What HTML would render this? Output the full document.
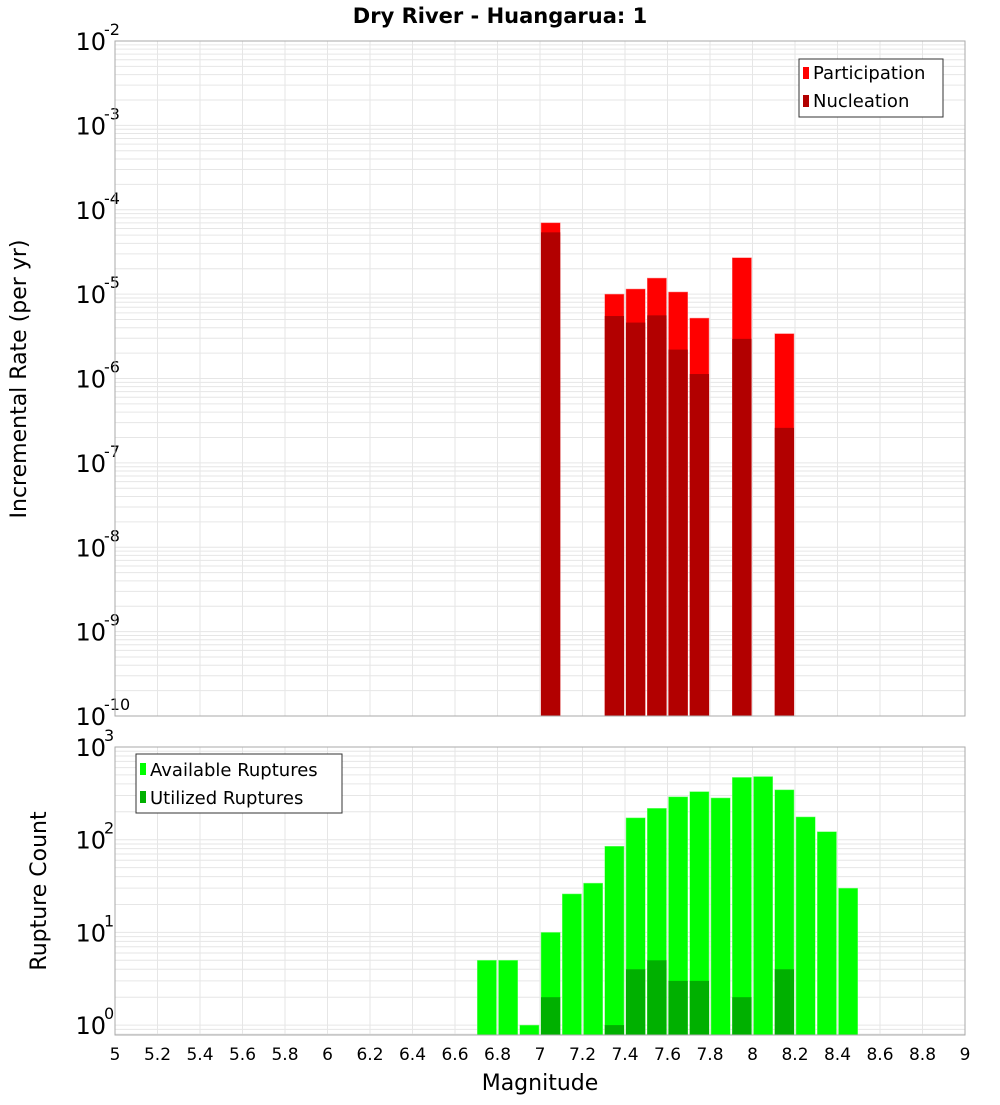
<!DOCTYPE html>
<html><head><meta charset="utf-8"><style>
body{margin:0;background:#fff;font-family:"Liberation Sans","DejaVu Sans",sans-serif;}
svg text{font-family:"DejaVu Sans","Liberation Sans",sans-serif;}
</style></head><body>
<svg id="chart" width="1000" height="1100" viewBox="0 0 1000 1100" xmlns="http://www.w3.org/2000/svg">
<rect width="1000" height="1100" fill="#fff"/>
<text x="500" y="23" text-anchor="middle" font-size="21" font-weight="bold">Dry River - Huangarua: 1</text>
<g id="topPanel"></g><g id="botPanel"></g>
<text transform="translate(26,379) rotate(-90)" text-anchor="middle" font-size="22">Incremental Rate (per yr)</text>
<text transform="translate(46,891) rotate(-90)" text-anchor="middle" font-size="22">Rupture Count</text>
<text x="540" y="1090" text-anchor="middle" font-size="22">Magnitude</text>
<g>
<rect x="799" y="59" width="144" height="58" fill="#fff" stroke="#333"/>
<rect x="803" y="67" width="6" height="12" fill="#ff0000"/>
<text x="813" y="79" font-size="18">Participation</text>
<rect x="803" y="95" width="6" height="12" fill="#b20000"/>
<text x="813" y="107" font-size="18">Nucleation</text>
</g>
<g>
<rect x="136" y="754" width="206" height="59" fill="#fff" stroke="#333"/>
<rect x="140" y="763" width="6" height="12" fill="#00ff00"/>
<text x="150" y="776" font-size="18">Available Ruptures</text>
<rect x="140" y="791" width="6" height="12" fill="#00b000"/>
<text x="150" y="804" font-size="18">Utilized Ruptures</text>
</g>
</svg>
<script>
const topMags = [7.0, 7.3, 7.4, 7.5, 7.6, 7.7, 7.9, 8.1];
const participation = [7.0e-5, 1.0e-5, 1.15e-5, 1.55e-5, 1.06e-5, 5.2e-6, 2.7e-5, 3.4e-6];
const nucleation = [5.4e-5, 5.5e-6, 4.6e-6, 5.6e-6, 2.2e-6, 1.13e-6, 2.95e-6, 2.6e-7];
const botMags = [6.7, 6.8, 6.9, 7.0, 7.1, 7.2, 7.3, 7.4, 7.5, 7.6, 7.7, 7.8, 7.9, 8.0, 8.1, 8.2, 8.3, 8.4];
const available = [5, 5, 1, 10, 26, 34, 85, 172, 218, 290, 330, 282, 470, 480, 345, 176, 122, 30];
const utilized = [0, 0, 0, 2, 0, 0, 1, 4, 5, 3, 3, 0, 2, 0, 4, 0, 0, 0];
const xTicks = ["5","5.2","5.4","5.6","5.8","6","6.2","6.4","6.6","6.8","7","7.2","7.4","7.6","7.8","8","8.2","8.4","8.6","8.8","9"];
const topExps = [-10,-9,-8,-7,-6,-5,-4,-3,-2];
const botExps = [0,1,2,3];

{
const NS = "http://www.w3.org/2000/svg";
const L = 115, R = 965;
const xs = m => L + (m - 5) / 4 * (R - L);
const topY = v => 41 + (-2 - Math.log10(v)) * 84.375;
const botY = v => 747 + (3 - Math.log10(v)) * 92.7;
function mk(parent, tag, attrs) { const e = document.createElementNS(NS, tag); for (const k in attrs) e.setAttribute(k, attrs[k]); parent.appendChild(e); return e; }

function panel(g, y0, y1, yf, exps, name) {
  for (let d = exps[0] - 1; d <= exps[exps.length - 1]; d++) {
    for (let k = 1; k < 10; k++) {
      const v = k * Math.pow(10, d); const yy = yf(v);
      if (yy < y0 || yy > y1) continue;
      const ln = mk(g, "line", {x1: L, x2: R, y1: yy, y2: yy, stroke: "#e6e6e6", "stroke-width": 1});
      
      
    }
  }
  xTicks.forEach(t => {
    const xx = xs(parseFloat(t));
    const ln = mk(g, "line", {x1: xx, x2: xx, y1: y0, y2: y1, stroke: "#e6e6e6", "stroke-width": 1});
    
    
  });
  exps.forEach(e => {
    const yy = yf(Math.pow(10, e));
    const t = mk(g, "text", {x: 106, y: yy + 9, "text-anchor": "end", "font-size": 24});
    t.textContent = "10";
    
    
    const s = mk(g, "text", {x: 104, y: yy - 6, "text-anchor": "start", "font-size": 16});
    s.textContent = String(e);
    
    
  });
}

const topG = document.getElementById("topPanel");
panel(topG, 41, 716, topY, topExps, "top");
topMags.forEach((m, i) => {
  const b = mk(topG, "rect", {x: xs(m) + 1, y: topY(participation[i]), width: xs(m + 0.1) - xs(m) - 2, height: 716 - topY(participation[i]), fill: "#ff0000", stroke: "#ff8080", "stroke-width": 0.5});
  
  
  const n = mk(topG, "rect", {x: xs(m) + 1, y: topY(nucleation[i]), width: xs(m + 0.1) - xs(m) - 2, height: 716 - topY(nucleation[i]), fill: "#b20000"});
  
  
});
const tb = mk(topG, "rect", {x: L, y: 41, width: R - L, height: 675, fill: "none", stroke: "#aaa"});



const botG = document.getElementById("botPanel");
panel(botG, 747, 1035, botY, botExps, "bottom");
botMags.forEach((m, i) => {
  const b = mk(botG, "rect", {x: xs(m) + 1, y: botY(available[i]), width: xs(m + 0.1) - xs(m) - 2, height: 1035 - botY(available[i]), fill: "#00ff00", stroke: "#80ff80", "stroke-width": 0.5});
  
  
  if (utilized[i] > 0) {
    const u = mk(botG, "rect", {x: xs(m) + 1, y: botY(utilized[i]), width: xs(m + 0.1) - xs(m) - 2, height: 1035 - botY(utilized[i]), fill: "#00b000"});
    
    
  }
});
const bb = mk(botG, "rect", {x: L, y: 747, width: R - L, height: 288, fill: "none", stroke: "#aaa"});


xTicks.forEach(t => {
  const tx = mk(botG, "text", {x: xs(parseFloat(t)), y: 1060, "text-anchor": "middle", "font-size": 17});
  tx.textContent = t;
  
  
});
}
</script>
</body></html>
